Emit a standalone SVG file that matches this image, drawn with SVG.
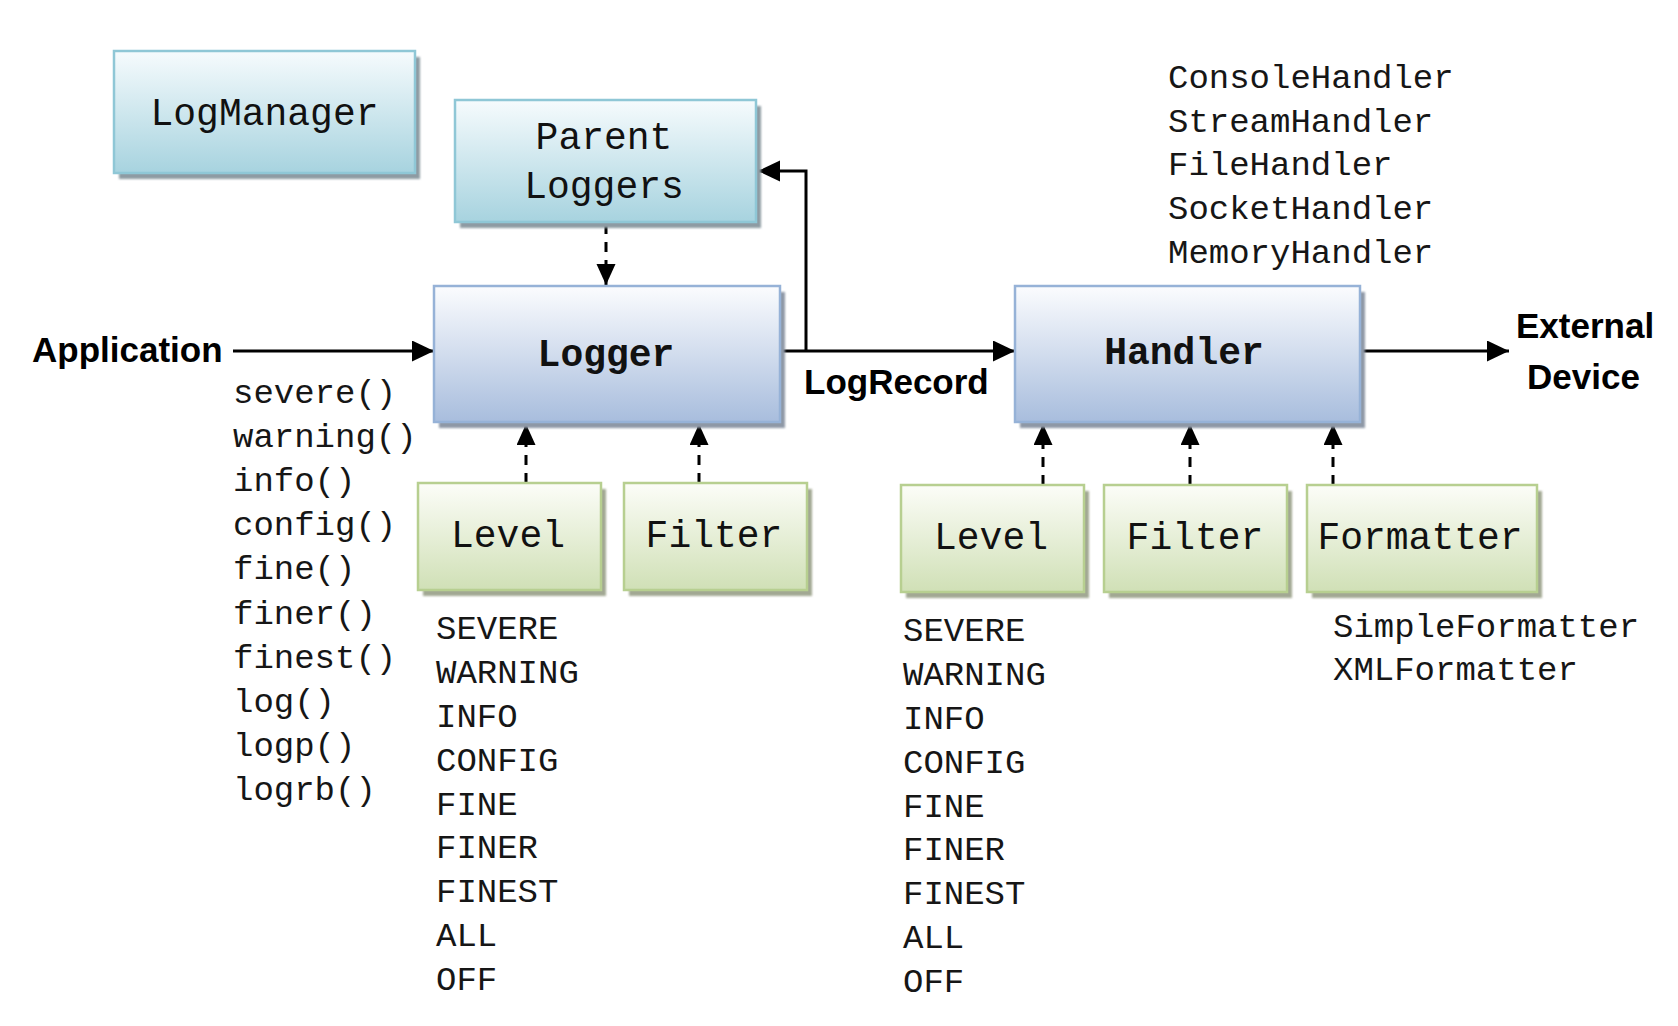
<svg xmlns="http://www.w3.org/2000/svg" width="1678" height="1026" viewBox="0 0 1678 1026">
  <defs>
    <linearGradient id="gTeal" x1="0" y1="0" x2="0" y2="1">
      <stop offset="0" stop-color="#f6fbfd"/>
      <stop offset="1" stop-color="#a7d3df"/>
    </linearGradient>
    <linearGradient id="gBlue" x1="0" y1="0" x2="0" y2="1">
      <stop offset="0" stop-color="#fbfcfe"/>
      <stop offset="1" stop-color="#a8bddd"/>
    </linearGradient>
    <linearGradient id="gGreen" x1="0" y1="0" x2="0" y2="1">
      <stop offset="0" stop-color="#fcfdf8"/>
      <stop offset="1" stop-color="#d0e0b6"/>
    </linearGradient>
    <filter id="soft" x="-5%" y="-5%" width="110%" height="115%">
      <feGaussianBlur stdDeviation="1.2"/>
    </filter>
    <marker id="arrow" markerUnits="userSpaceOnUse" markerWidth="23" markerHeight="22" refX="22" refY="10.5" orient="auto">
      <path d="M0,0 L22,10.5 L0,21 z" fill="#000" stroke="none"/>
    </marker>
    <marker id="arrowS" markerUnits="userSpaceOnUse" markerWidth="22" markerHeight="20" refX="21" refY="9.5" orient="auto">
      <path d="M0,0 L21,9.5 L0,19 z" fill="#000" stroke="none"/>
    </marker>
  </defs>
  <style>
    .shadow { filter: url(#soft); }
    .shT { fill: #8e9ba3; }
    .shB { fill: #8e98a6; }
    .shG { fill: #a2a893; }
    .teal { fill: url(#gTeal); stroke: #8fc7d6; stroke-width: 2.5; }
    .blue { fill: url(#gBlue); stroke: #96b2d7; stroke-width: 2.5; }
    .green { fill: url(#gGreen); stroke: #b7cf90; stroke-width: 2.5; }
    .box { font-family: "Liberation Mono", "DejaVu Sans Mono", monospace; font-size: 38px; fill: #111; text-anchor: middle; }
    .boxb { font-family: "Liberation Mono", "DejaVu Sans Mono", monospace; font-size: 38px; font-weight: bold; fill: #111; text-anchor: middle; }
    .list { font-family: "Liberation Mono", "DejaVu Sans Mono", monospace; font-size: 34px; fill: #161616; }
    .lbl { font-family: "Liberation Sans", Arial, sans-serif; font-size: 35px; font-weight: bold; fill: #000; }
    .line { fill: none; stroke: #000; stroke-width: 3; }
    .dash { fill: none; stroke: #000; stroke-width: 3; stroke-dasharray: 10 8; }
  </style>

  <!-- connectors -->
  <g id="connectors">
    <line class="line" x1="233" y1="351" x2="434" y2="351" marker-end="url(#arrow)"/>
    <line class="line" x1="780" y1="351" x2="1015" y2="351" marker-end="url(#arrow)"/>
    <polyline class="line" points="806,351 806,171 758,171" marker-end="url(#arrow)"/>
    <line class="line" x1="1362" y1="351" x2="1509" y2="351" marker-end="url(#arrow)"/>
    <line class="dash" x1="606" y1="224" x2="606" y2="285" marker-end="url(#arrowS)"/>
    <line class="dash" x1="526" y1="483" x2="526" y2="424" marker-end="url(#arrowS)"/>
    <line class="dash" x1="699" y1="483" x2="699" y2="424" marker-end="url(#arrowS)"/>
    <line class="dash" x1="1043" y1="485" x2="1043" y2="424" marker-end="url(#arrowS)"/>
    <line class="dash" x1="1190" y1="485" x2="1190" y2="424" marker-end="url(#arrowS)"/>
    <line class="dash" x1="1333" y1="485" x2="1333" y2="424" marker-end="url(#arrowS)"/>
  </g>

  <!-- free labels -->
  <g id="labels">
    <text class="lbl" x="32" y="362">Application</text>
    <text class="lbl" x="804" y="394">LogRecord</text>
    <text class="lbl" x="1516" y="338">External</text>
    <text class="lbl" x="1527" y="389">Device</text>
  </g>

  <g id="logmanager">
    <rect class="shadow shT" x="119" y="57" width="301" height="122"/>
    <rect class="teal" x="114" y="51" width="301" height="122"/>
    <text class="box" x="264.5" y="125">LogManager</text>
  </g>

  <g id="parent-loggers">
    <rect class="shadow shT" x="460" y="106" width="301" height="122"/>
    <rect class="teal" x="455" y="100" width="301" height="122"/>
    <text class="box" x="604" y="149">Parent</text>
    <text class="box" x="604" y="198">Loggers</text>
  </g>

  <g id="logger">
    <rect class="shadow shB" x="439" y="292" width="346" height="136"/>
    <rect class="blue" x="434" y="286" width="346" height="136"/>
    <text class="boxb" x="606" y="366">Logger</text>
  </g>

  <g id="handler">
    <rect class="shadow shB" x="1020" y="292" width="345" height="136"/>
    <rect class="blue" x="1015" y="286" width="345" height="136"/>
    <text class="boxb" x="1184" y="364">Handler</text>
  </g>

  <g id="logger-level">
    <rect class="shadow shG" x="423" y="489" width="183" height="107"/>
    <rect class="green" x="418" y="483" width="183" height="107"/>
    <text class="box" x="508" y="547">Level</text>
  </g>

  <g id="logger-filter">
    <rect class="shadow shG" x="629" y="489" width="183" height="107"/>
    <rect class="green" x="624" y="483" width="183" height="107"/>
    <text class="box" x="714" y="547">Filter</text>
  </g>

  <g id="handler-level">
    <rect class="shadow shG" x="906" y="491" width="183" height="107"/>
    <rect class="green" x="901" y="485" width="183" height="107"/>
    <text class="box" x="991" y="549">Level</text>
  </g>

  <g id="handler-filter">
    <rect class="shadow shG" x="1109" y="491" width="183" height="107"/>
    <rect class="green" x="1104" y="485" width="183" height="107"/>
    <text class="box" x="1195" y="549">Filter</text>
  </g>

  <g id="handler-formatter">
    <rect class="shadow shG" x="1312" y="491" width="230" height="107"/>
    <rect class="green" x="1307" y="485" width="230" height="107"/>
    <text class="box" x="1420" y="549">Formatter</text>
  </g>

  <!-- method and constant lists -->
  <g id="logger-methods" class="list">
    <text x="233" y="403">severe()</text>
    <text x="233" y="447">warning()</text>
    <text x="233" y="491">info()</text>
    <text x="233" y="535">config()</text>
    <text x="233" y="579">fine()</text>
    <text x="233" y="624">finer()</text>
    <text x="233" y="668">finest()</text>
    <text x="233" y="712">log()</text>
    <text x="233" y="756">logp()</text>
    <text x="233" y="800">logrb()</text>
  </g>

  <g id="handler-types" class="list">
    <text x="1168" y="88">ConsoleHandler</text>
    <text x="1168" y="132">StreamHandler</text>
    <text x="1168" y="175">FileHandler</text>
    <text x="1168" y="219">SocketHandler</text>
    <text x="1168" y="263">MemoryHandler</text>
  </g>

  <g id="logger-levels" class="list">
    <text x="436" y="639">SEVERE</text>
    <text x="436" y="683">WARNING</text>
    <text x="436" y="727">INFO</text>
    <text x="436" y="771">CONFIG</text>
    <text x="436" y="815">FINE</text>
    <text x="436" y="858">FINER</text>
    <text x="436" y="902">FINEST</text>
    <text x="436" y="946">ALL</text>
    <text x="436" y="990">OFF</text>
  </g>

  <g id="handler-levels" class="list">
    <text x="903" y="641">SEVERE</text>
    <text x="903" y="685">WARNING</text>
    <text x="903" y="729">INFO</text>
    <text x="903" y="773">CONFIG</text>
    <text x="903" y="817">FINE</text>
    <text x="903" y="860">FINER</text>
    <text x="903" y="904">FINEST</text>
    <text x="903" y="948">ALL</text>
    <text x="903" y="992">OFF</text>
  </g>

  <g id="formatter-types" class="list">
    <text x="1333" y="637">SimpleFormatter</text>
    <text x="1333" y="680">XMLFormatter</text>
  </g>
</svg>
